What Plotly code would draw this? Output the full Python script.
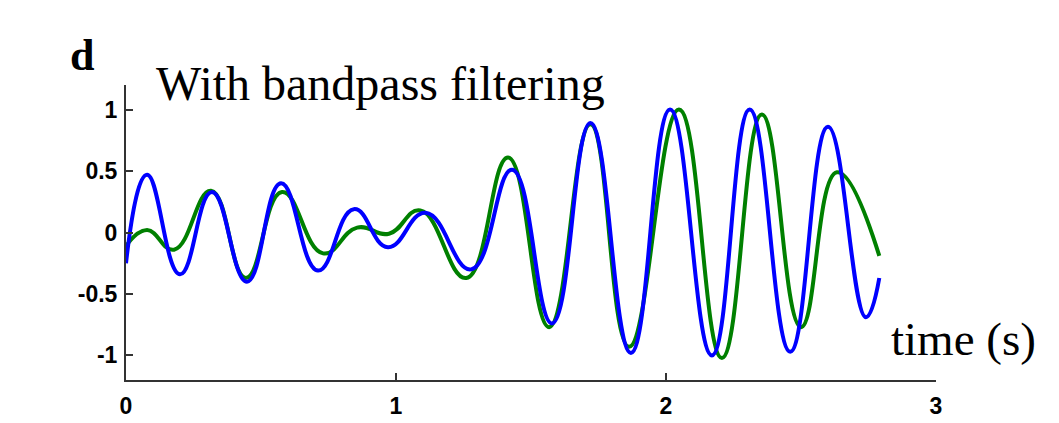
import plotly.graph_objects as go

# ---- data ----
blue_t = [0, 0.078, 0.2, 0.318, 0.448, 0.574, 0.711, 0.844, 0.97, 1.11, 1.278,
          1.43, 1.578, 1.72, 1.87, 2.015, 2.17, 2.31, 2.46, 2.60, 2.74, 2.79]
blue_v = [-0.25, 0.47, -0.34, 0.33, -0.40, 0.40, -0.31, 0.19, -0.12, 0.16, -0.30,
          0.51, -0.74, 0.89, -0.98, 1.0, -1.0, 1.0, -0.97, 0.86, -0.69, -0.37]

green_t = [0, 0.078, 0.178, 0.315, 0.444, 0.578, 0.73, 0.856, 0.974, 1.09, 1.26,
           1.415, 1.567, 1.72, 1.863, 2.048, 2.207, 2.355, 2.5, 2.633, 2.79]
green_v = [-0.11, 0.02, -0.14, 0.34, -0.37, 0.33, -0.17, 0.04, -0.01, 0.18, -0.37,
           0.61, -0.77, 0.88, -0.93, 1.0, -1.02, 0.96, -0.77, 0.49, -0.19]

x_ticks = [0, 1, 2, 3]
x_tick_labels = ["0", "1", "2", "3"]
y_ticks = [-1, -0.5, 0, 0.5, 1]
y_tick_labels = ["-1", "-0.5", "0", "0.5", "1"]

panel_label = "d"
title_text = "With bandpass filtering"
x_label = "time (s)"

fig = go.Figure()
fig.add_trace(go.Scatter(x=green_t, y=green_v, mode="lines",
                         line=dict(color="#008000", width=4, shape="spline", smoothing=1.3),
                         showlegend=False))
fig.add_trace(go.Scatter(x=blue_t, y=blue_v, mode="lines",
                         line=dict(color="#0000FF", width=4, shape="spline", smoothing=1.3),
                         showlegend=False))

tickfont = dict(family="Liberation Sans, Arial, sans-serif", size=23, color="black", weight="bold")

fig.update_layout(
    width=1059, height=423,
    margin=dict(l=118, r=131, t=77, b=39),
    paper_bgcolor="white", plot_bgcolor="white",
    xaxis=dict(range=[0, 3], tickvals=x_ticks, ticktext=x_tick_labels,
               showgrid=False, zeroline=False, showline=True, linecolor="#333",
               linewidth=2, ticks="inside", ticklen=7, tickwidth=2, tickcolor="#333",
               tickfont=tickfont, ticklabelstandoff=4),
    yaxis=dict(range=[-1.2, 1.2], tickvals=y_ticks, ticktext=y_tick_labels,
               showgrid=False, zeroline=False, showline=True, linecolor="#333",
               linewidth=2, ticks="inside", ticklen=7, tickwidth=2, tickcolor="#333",
               tickfont=tickfont, ticklabelstandoff=2),
    annotations=[
        dict(text=panel_label, xref="paper", yref="paper", x=-0.072, y=1.10,
             xanchor="left", yanchor="middle", showarrow=False,
             font=dict(family="Liberation Serif, Times New Roman, serif", size=44,
                       color="black", weight="bold")),
        dict(text=title_text, xref="paper", yref="paper", x=0.034, y=1.005,
             xanchor="left", yanchor="middle", showarrow=False,
             font=dict(family="Liberation Serif, Times New Roman, serif", size=48, color="black")),
        dict(text=x_label, xref="paper", yref="paper", x=0.942, y=0.14,
             xanchor="left", yanchor="middle", showarrow=False,
             font=dict(family="Liberation Serif, Times New Roman, serif", size=47, color="black")),
    ],
)

fig.write_html("out.html")
